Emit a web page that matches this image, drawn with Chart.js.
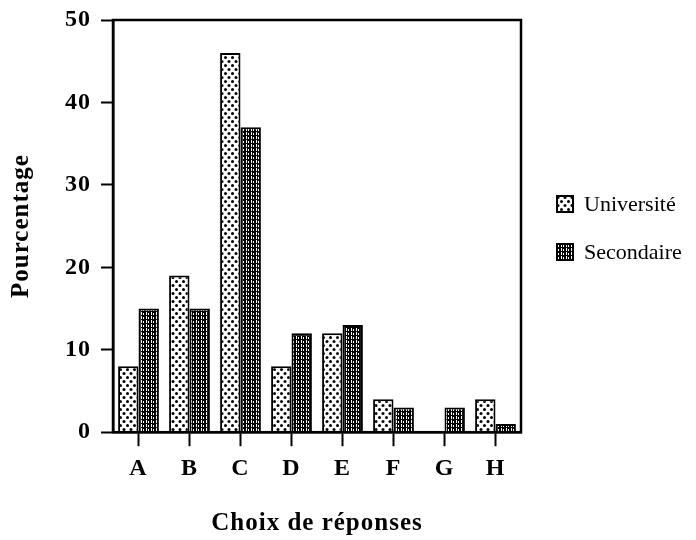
<!DOCTYPE html>
<html>
<head>
<meta charset="utf-8">
<script src="https://cdn.jsdelivr.net/npm/chart.js@4"></script>
<style>
  html, body { margin: 0; padding: 0; background: #fff; }
  #wrap { width: 696px; height: 540px; }
</style>
</head>
<body>
<div id="wrap"><canvas id="chart" width="696" height="540"></canvas></div>
<script>
// ─── DATA ────────────────────────────────────────────────────────
const categories  = ['A', 'B', 'C', 'D', 'E', 'F', 'G', 'H'];
const universite  = [8, 19, 46, 8, 12, 4, 0, 4];
const secondaire  = [15, 15, 37, 12, 13, 3, 3, 1];
const yTicks      = [0, 10, 20, 30, 40, 50];

const SERIF = '"Liberation Serif", "Times New Roman", serif';

// ─── PATTERNS ────────────────────────────────────────────────────
function dotPattern() {
  const c = document.createElement('canvas');
  c.width = 7; c.height = 8;
  const g = c.getContext('2d');
  g.fillStyle = '#fff'; g.fillRect(0, 0, 7, 8);
  g.fillStyle = '#000';
  g.beginPath(); g.arc(1.5, 1.5, 1.5, 0, Math.PI * 2); g.fill();
  g.beginPath(); g.arc(5, 5.5, 1.5, 0, Math.PI * 2); g.fill();
  return g.createPattern(c, 'repeat');
}

function stripePattern() {
  const c = document.createElement('canvas');
  c.width = 5; c.height = 4;
  const g = c.getContext('2d');
  g.fillStyle = '#000'; g.fillRect(0, 0, 5, 4);
  g.fillStyle = '#fff';
  g.fillRect(1, 0, 1, 3);
  g.fillRect(3, 1, 1, 2);
  return g.createPattern(c, 'repeat');
}

// ─── PLUGINS ─────────────────────────────────────────────────────
// slightly wide, scanned-Times look for the bold texts
const spacing = {
  id: 'spacing',
  beforeUpdate(chart) { chart.ctx.letterSpacing = '1px'; },
  beforeDraw(chart)   { chart.ctx.letterSpacing = '1px'; }
};

// frame around the plot area
const frame = {
  id: 'frame',
  afterDatasetsDraw(chart) {
    const { ctx, chartArea: a } = chart;
    ctx.save();
    ctx.strokeStyle = '#000';
    ctx.lineWidth = 2.5;
    ctx.strokeRect(a.left, a.top, a.right - a.left, a.bottom - a.top);
    ctx.restore();
  }
};

// legend to the right of the frame
const sideLegend = {
  id: 'sideLegend',
  afterDraw(chart) {
    const { ctx, chartArea: a } = chart;
    const x = a.right + 36, box = 16, rowGap = 48;
    const y0 = 204;
    ctx.save();
    ctx.letterSpacing = '0px';
    ctx.font = '22px ' + SERIF;
    ctx.textBaseline = 'middle';
    chart.data.datasets.forEach((ds, i) => {
      const y = y0 + i * rowGap;
      ctx.fillStyle = ds.backgroundColor;
      ctx.fillRect(x, y - box / 2, box, box);
      ctx.strokeStyle = '#000';
      ctx.lineWidth = 2;
      ctx.strokeRect(x, y - box / 2, box, box);
      ctx.fillStyle = '#000';
      ctx.fillText(ds.label, x + box + 11, y + 1);
    });
    ctx.restore();
  }
};

new Chart(document.getElementById('chart'), {
  type: 'bar',
  data: {
    labels: categories,
    datasets: [
      { label: 'Université', data: universite, backgroundColor: dotPattern(),
        borderColor: '#000', borderWidth: 2 },
      { label: 'Secondaire', data: secondaire, backgroundColor: stripePattern(),
        borderColor: '#000', borderWidth: 2 }
    ]
  },
  options: {
    responsive: false,
    animation: false,
    devicePixelRatio: 1,
    categoryPercentage: 0.8,
    barPercentage: 1.0,
    layout: { padding: { top: 20, left: 7, right: 175, bottom: 1 } },
    plugins: {
      tooltip: { enabled: false },
      legend: { display: false }
    },
    scales: {
      x: {
        grid: { offset: false, drawOnChartArea: false, drawTicks: true,
                tickLength: 14, tickColor: '#000', tickWidth: 2 },
        border: { display: true, color: '#000', width: 2.5 },
        ticks: { color: '#000', padding: 8, font: { family: SERIF, size: 24, weight: 'bold' } },
        title: { display: true, text: 'Choix de réponses', color: '#000',
                 padding: { top: 18, bottom: 0 }, font: { family: SERIF, size: 25, weight: 'bold' } }
      },
      y: {
        min: 0, max: 50,
        afterBuildTicks: axis => { axis.ticks = yTicks.map(v => ({ value: v })); },
        afterFit: axis => { axis.paddingTop = 0; axis.paddingBottom = 0; },
        grid: { drawOnChartArea: false, drawTicks: true,
                tickLength: 12, tickColor: '#000', tickWidth: 2 },
        border: { display: true, color: '#000', width: 2.5 },
        ticks: { color: '#000', padding: 10, font: { family: SERIF, size: 24, weight: 'bold' } },
        title: { display: true, text: 'Pourcentage', color: '#000',
                 padding: { top: 0, bottom: 18 }, font: { family: SERIF, size: 25, weight: 'bold' } }
      }
    }
  },
  plugins: [spacing, frame, sideLegend]
});
</script>
</body>
</html>
